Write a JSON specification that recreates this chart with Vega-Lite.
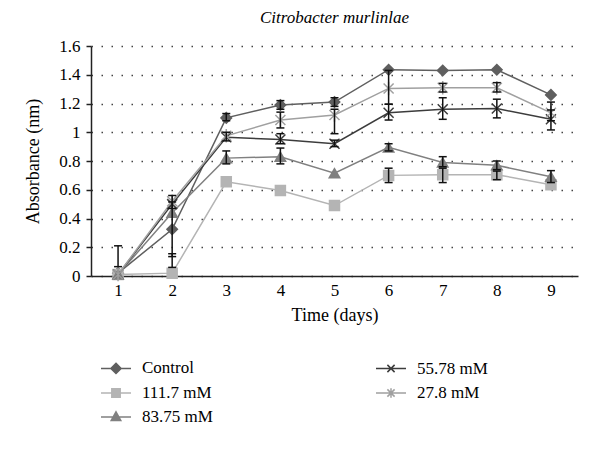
{
  "$schema": "https://vega.github.io/schema/vega-lite/v6.json",
  "autosize": "none",
  "width": 487,
  "height": 230,
  "padding": {"left": 91, "top": 46, "right": 22, "bottom": 173},
  "background": "white",
  "title": {"text": "Citrobacter murlinlae", "font": "Liberation Serif", "fontSize": 17, "fontStyle": "italic", "fontWeight": "normal", "color": "#000", "anchor": "middle", "frame": "group", "offset": 10},
  "config": {
    "view": {"stroke": null},
    "legend": {"labelFont": "Liberation Serif", "labelFontSize": 17, "labelColor": "#000"},
    "axisY": {"values": [0, 0.2, 0.4, 0.6, 0.8, 1, 1.2, 1.4, 1.6], "format": "~g", "labelOverlap": false, "tickSize": 5, "tickColor": "#222", "tickWidth": 1.5, "labelPadding": 6, "titlePadding": 16, "domainColor": "#222", "domainWidth": 1.5, "labelFont": "Liberation Serif", "labelFontSize": 17, "labelColor": "#000", "titleFont": "Liberation Serif", "titleFontSize": 18, "titleFontWeight": "normal", "titleColor": "#000", "grid": true, "gridColor": "#444", "gridWidth": 1.5, "gridDash": [1.5, 8.5]}
  },
  "datasets": {
    "main": [
      {"day": 1, "series": "Control", "v": 0.02},
      {"day": 2, "series": "Control", "v": 0.325},
      {"day": 3, "series": "Control", "v": 1.1},
      {"day": 4, "series": "Control", "v": 1.19},
      {"day": 5, "series": "Control", "v": 1.21},
      {"day": 6, "series": "Control", "v": 1.435},
      {"day": 7, "series": "Control", "v": 1.43},
      {"day": 8, "series": "Control", "v": 1.435},
      {"day": 9, "series": "Control", "v": 1.26},
      {"day": 1, "series": "111.7 mM", "v": 0.01},
      {"day": 2, "series": "111.7 mM", "v": 0.02},
      {"day": 3, "series": "111.7 mM", "v": 0.655},
      {"day": 4, "series": "111.7 mM", "v": 0.595},
      {"day": 5, "series": "111.7 mM", "v": 0.49},
      {"day": 6, "series": "111.7 mM", "v": 0.7},
      {"day": 7, "series": "111.7 mM", "v": 0.705},
      {"day": 8, "series": "111.7 mM", "v": 0.705},
      {"day": 9, "series": "111.7 mM", "v": 0.635},
      {"day": 1, "series": "83.75 mM", "v": 0.01},
      {"day": 2, "series": "83.75 mM", "v": 0.44},
      {"day": 3, "series": "83.75 mM", "v": 0.82},
      {"day": 4, "series": "83.75 mM", "v": 0.83},
      {"day": 5, "series": "83.75 mM", "v": 0.715},
      {"day": 6, "series": "83.75 mM", "v": 0.895},
      {"day": 7, "series": "83.75 mM", "v": 0.79},
      {"day": 8, "series": "83.75 mM", "v": 0.77},
      {"day": 9, "series": "83.75 mM", "v": 0.69},
      {"day": 1, "series": "55.78 mM", "v": 0.01},
      {"day": 2, "series": "55.78 mM", "v": 0.5},
      {"day": 3, "series": "55.78 mM", "v": 0.965},
      {"day": 4, "series": "55.78 mM", "v": 0.95},
      {"day": 5, "series": "55.78 mM", "v": 0.92},
      {"day": 6, "series": "55.78 mM", "v": 1.135},
      {"day": 7, "series": "55.78 mM", "v": 1.16},
      {"day": 8, "series": "55.78 mM", "v": 1.165},
      {"day": 9, "series": "55.78 mM", "v": 1.09},
      {"day": 1, "series": "27.8 mM", "v": 0.01},
      {"day": 2, "series": "27.8 mM", "v": 0.52},
      {"day": 3, "series": "27.8 mM", "v": 0.975},
      {"day": 4, "series": "27.8 mM", "v": 1.085},
      {"day": 5, "series": "27.8 mM", "v": 1.12},
      {"day": 6, "series": "27.8 mM", "v": 1.305},
      {"day": 7, "series": "27.8 mM", "v": 1.31},
      {"day": 8, "series": "27.8 mM", "v": 1.31},
      {"day": 9, "series": "27.8 mM", "v": 1.135}
    ],
    "errors": [
      {"day": 1, "series": "Control", "lo": 0.065, "hi": 0.21},
      {"day": 2, "series": "Control", "lo": 0.135, "hi": 0.515},
      {"day": 2, "series": "55.78 mM", "lo": 0.47, "hi": 0.56},
      {"day": 2, "series": "111.7 mM", "lo": 0.06, "hi": 0.155},
      {"day": 3, "series": "Control", "lo": 1.08, "hi": 1.13},
      {"day": 3, "series": "55.78 mM", "lo": 0.94, "hi": 1.0},
      {"day": 3, "series": "83.75 mM", "lo": 0.78, "hi": 0.87},
      {"day": 4, "series": "Control", "lo": 1.16, "hi": 1.22},
      {"day": 4, "series": "27.8 mM", "lo": 1.03, "hi": 1.14},
      {"day": 4, "series": "55.78 mM", "lo": 0.92, "hi": 0.99},
      {"day": 4, "series": "83.75 mM", "lo": 0.78, "hi": 0.89},
      {"day": 5, "series": "Control", "lo": 1.18, "hi": 1.24},
      {"day": 5, "series": "27.8 mM", "lo": 0.99, "hi": 1.16},
      {"day": 5, "series": "55.78 mM", "lo": 0.9, "hi": 0.945},
      {"day": 6, "series": "27.8 mM", "lo": 1.195, "hi": 1.43},
      {"day": 6, "series": "55.78 mM", "lo": 1.085, "hi": 1.195},
      {"day": 6, "series": "83.75 mM", "lo": 0.87, "hi": 0.92},
      {"day": 6, "series": "111.7 mM", "lo": 0.65, "hi": 0.75},
      {"day": 7, "series": "27.8 mM", "lo": 1.28, "hi": 1.34},
      {"day": 7, "series": "55.78 mM", "lo": 1.09, "hi": 1.24},
      {"day": 7, "series": "83.75 mM", "lo": 0.76, "hi": 0.83},
      {"day": 7, "series": "111.7 mM", "lo": 0.65, "hi": 0.75},
      {"day": 8, "series": "27.8 mM", "lo": 1.28, "hi": 1.345},
      {"day": 8, "series": "55.78 mM", "lo": 1.1, "hi": 1.23},
      {"day": 8, "series": "83.75 mM", "lo": 0.74, "hi": 0.8},
      {"day": 8, "series": "111.7 mM", "lo": 0.67, "hi": 0.73},
      {"day": 9, "series": "27.8 mM", "lo": 1.08, "hi": 1.21},
      {"day": 9, "series": "55.78 mM", "lo": 1.016, "hi": 1.155},
      {"day": 9, "series": "83.75 mM", "lo": 0.65, "hi": 0.733}
    ]
  },
  "encoding": {
    "x": {
      "field": "day", "type": "ordinal",
      "scale": {"type": "point", "padding": 0.5},
      "axis": {"title": "Time (days)", "labelAngle": 0, "ticks": false, "tickSize": 0, "labelPadding": 6, "titlePadding": 8, "domainColor": "#222", "domainWidth": 1.5, "labelFont": "Liberation Serif", "labelFontSize": 17, "labelColor": "#000", "titleFont": "Liberation Serif", "titleFontSize": 18, "titleFontWeight": "normal", "titleColor": "#000", "grid": false}
    },
    "y": {"field": "v", "type": "quantitative", "title": "Absorbance (nm)", "scale": {"domain": [0, 1.6], "nice": false}}
  },
  "layer": [
    {
      "data": {"name": "main"},
      "mark": {"type": "line", "strokeWidth": 1.5},
      "encoding": {
        "color": {
          "field": "series", "type": "nominal",
          "scale": {"domain": ["Control", "111.7 mM", "83.75 mM", "55.78 mM", "27.8 mM"], "range": ["#5f5f5f", "#b4b4b4", "#808080", "#3c3c3c", "#a0a0a0"]},
          "legend": {
            "orient": "none", "legendX": 9, "legendY": 306, "columns": 2, "direction": "vertical", "title": null,
            "symbolSize": 900, "symbolStrokeWidth": 1.5,
            "labelFont": "Liberation Serif", "labelFontSize": 17, "labelColor": "#000",
            "labelOffset": 10, "columnPadding": 160, "rowPadding": 0,
            "encode": {
              "labels": {
                "update": {
                  "font": {"value": "Liberation Serif"},
                  "fontSize": {"value": 17},
                  "fill": {"value": "#000"}
                }
              },
              "symbols": {
                "update": {
                  "shape": {"signal": "datum.value === 'Control' ? 'M-1,0H1M0,-0.34L0.34,0L0,0.34L-0.34,0Z' : datum.value === '111.7 mM' ? 'M-1,0H1M-0.28,-0.28H0.28V0.28H-0.28Z' : datum.value === '83.75 mM' ? 'M-1,0H1M0,-0.34L0.32,0.24H-0.32Z' : datum.value === '55.78 mM' ? 'M-1,0H1M-0.24,-0.24L0.24,0.24M-0.24,0.24L0.24,-0.24' : 'M-1,0H1M-0.24,-0.24L0.24,0.24M-0.24,0.24L0.24,-0.24M0,-0.32V0.32'"},
                  "stroke": {"scale": "color", "field": "value"},
                  "fill": {"scale": "color", "field": "value"},
                  "strokeWidth": {"value": 1.5},
                  "opacity": {"value": 1}
                }
              }
            }
          }
        }
      }
    },
    {
      "data": {"name": "main"},
      "transform": [{"filter": "datum.series === 'Control'"}],
      "mark": {"type": "point", "shape": "diamond", "filled": true, "fill": "#5f5f5f", "stroke": "#5f5f5f", "opacity": 1, "size": 110, "strokeWidth": 1.5}
    },
    {
      "data": {"name": "main"},
      "transform": [{"filter": "datum.series === '111.7 mM'"}],
      "mark": {"type": "point", "shape": "square", "filled": true, "fill": "#b4b4b4", "stroke": "#b4b4b4", "opacity": 1, "size": 100, "strokeWidth": 1.5}
    },
    {
      "data": {"name": "main"},
      "transform": [{"filter": "datum.series === '83.75 mM'"}],
      "mark": {"type": "point", "shape": "triangle-up", "filled": true, "fill": "#808080", "stroke": "#808080", "opacity": 1, "size": 110, "strokeWidth": 1.5}
    },
    {
      "data": {"name": "main"},
      "transform": [{"filter": "datum.series === '55.78 mM'"}],
      "mark": {"type": "point", "shape": "M-1,-1L1,1M-1,1L1,-1", "filled": false, "stroke": "#3c3c3c", "opacity": 1, "size": 100, "strokeWidth": 1.5}
    },
    {
      "data": {"name": "main"},
      "transform": [{"filter": "datum.series === '27.8 mM'"}],
      "mark": {"type": "point", "shape": "M-1,-1L1,1M-1,1L1,-1M0,-1.35V1.35", "filled": false, "stroke": "#a0a0a0", "opacity": 1, "size": 100, "strokeWidth": 1.5}
    },
    {
      "data": {"name": "errors"},
      "mark": {"type": "rule", "strokeWidth": 1.5, "color": "#111"},
      "encoding": {
        "y": {"field": "lo", "type": "quantitative", "title": "Absorbance (nm)"},
        "y2": {"field": "hi"}
      }
    },
    {
      "data": {"name": "errors"},
      "mark": {"type": "tick", "size": 8, "thickness": 1.5, "opacity": 1, "color": "#111"},
      "encoding": {
        "y": {"field": "lo", "type": "quantitative", "title": "Absorbance (nm)"}
      }
    },
    {
      "data": {"name": "errors"},
      "mark": {"type": "tick", "size": 8, "thickness": 1.5, "opacity": 1, "color": "#111"},
      "encoding": {
        "y": {"field": "hi", "type": "quantitative", "title": "Absorbance (nm)"}
      }
    }
  ]
}
